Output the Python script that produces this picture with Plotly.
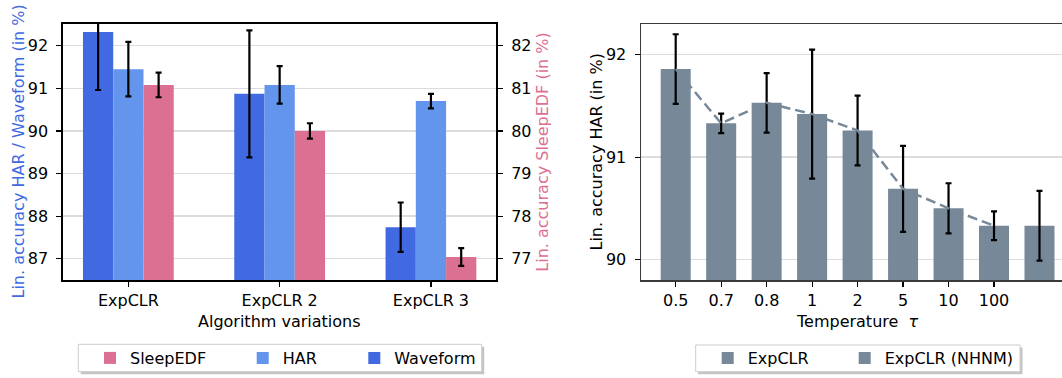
import plotly.graph_objects as go

W, H = 1062, 378

# ---------------- data ----------------
categories = ["ExpCLR", "ExpCLR 2", "ExpCLR 3"]
waveform = [92.32, 90.87, 87.74]
waveform_err = [1.36, 1.49, 0.58]
har = [91.45, 91.08, 90.70]
har_err = [0.64, 0.44, 0.17]
sleepedf = [81.08, 80.00, 77.04]
sleepedf_err = [0.29, 0.18, 0.21]

temps = ["0.5", "0.7", "0.8", "1", "2", "5", "10", "100"]
temp_acc = [91.86, 91.33, 91.53, 91.42, 91.26, 90.69, 90.50, 90.33]
temp_err = [0.34, 0.095, 0.29, 0.63, 0.34, 0.42, 0.245, 0.14]
nhnm_acc = [90.33]
nhnm_err = [0.34]

# ---------------- helpers ----------------
def fx(p):
    return p / W

def fy(p):
    return 1 - p / H

FONT = "DejaVu Sans"
FS = 16
WAVE_C = "#4169E1"
HAR_C = "#6495ED"
SLEEP_C = "#DB7093"
GRAY_C = "#778899"

def err(arr):
    return dict(type="data", array=arr, color="black", thickness=2.2, width=3, visible=True)

xs_left = list(range(len(categories)))
xs_t = list(range(len(temps)))
xs_n = [len(temps) + i for i in range(len(nhnm_acc))]

fig = go.Figure()

# left panel bars
fig.add_trace(go.Bar(x=xs_left, y=waveform, width=0.2, offset=-0.3, name="Waveform",
                     marker=dict(color=WAVE_C, line=dict(width=0)), error_y=err(waveform_err),
                     xaxis="x", yaxis="y", legend="legend3"))
fig.add_trace(go.Bar(x=xs_left, y=har, width=0.2, offset=-0.1, name="HAR",
                     marker=dict(color=HAR_C, line=dict(width=0)), error_y=err(har_err),
                     xaxis="x", yaxis="y", legend="legend2"))
fig.add_trace(go.Bar(x=xs_left, y=sleepedf, width=0.2, offset=0.1, name="SleepEDF",
                     marker=dict(color=SLEEP_C, line=dict(width=0)), error_y=err(sleepedf_err),
                     xaxis="x", yaxis="y2", legend="legend"))

# right panel
fig.add_trace(go.Scatter(x=xs_t, y=temp_acc, mode="lines", showlegend=False,
                         line=dict(color=GRAY_C, width=2.5, dash="10px,5px"),
                         xaxis="x2", yaxis="y3"))
fig.add_trace(go.Bar(x=xs_t, y=temp_acc, width=0.66, name="ExpCLR",
                     marker=dict(color=GRAY_C, line=dict(width=0)), error_y=err(temp_err),
                     xaxis="x2", yaxis="y3", legend="legend4"))
fig.add_trace(go.Bar(x=xs_n, y=nhnm_acc, width=0.66, name="ExpCLR (NHNM)",
                     marker=dict(color=GRAY_C, line=dict(width=0)), error_y=err(nhnm_err),
                     xaxis="x2", yaxis="y3", legend="legend5"))

tickfont = dict(family=FONT, size=FS, color="black")
common_tick = dict(ticks="outside", ticklen=5, tickwidth=1.2, tickcolor="black",
                   tickfont=tickfont, zeroline=False, fixedrange=True)

left_dom_x = [fx(63.3), fx(496)]
dom_y = [fy(280), fy(24)]
right_dom_x = [fx(641), 1.0]


def leg(text_x, text_y=358):
    return dict(x=fx(text_x - 40), y=fy(text_y), xanchor="left", yanchor="middle",
                orientation="h", bgcolor="rgba(0,0,0,0)", borderwidth=0,
                font=dict(family=FONT, size=FS, color="black"))


fig.update_layout(
    width=W, height=H,
    margin=dict(l=0, r=0, t=0, b=0),
    paper_bgcolor="white", plot_bgcolor="white",
    barmode="overlay",
    font=dict(family=FONT, size=FS, color="black"),
    xaxis=dict(domain=left_dom_x, anchor="y", range=[-0.43, 2.43],
               tickmode="array", tickvals=xs_left, ticktext=categories,
               showgrid=False, showline=True, linecolor="black", linewidth=2, mirror=True,
               ticklabelstandoff=0, **common_tick),
    yaxis=dict(domain=dom_y, anchor="x", range=[86.5, 92.51], dtick=1,
               showgrid=True, gridcolor="#dcdcdc", gridwidth=1.3,
               showline=True, linecolor="black", linewidth=2, mirror=True,
               ticklabelstandoff=5, **common_tick),
    yaxis2=dict(overlaying="y", anchor="x", side="right", range=[76.5, 82.51], dtick=1,
                showgrid=False, showline=True, linecolor="black", linewidth=2,
                ticklabelstandoff=5, **common_tick),
    xaxis2=dict(domain=right_dom_x, anchor="y3", range=[-0.763, 8.495],
                tickmode="array", tickvals=xs_t, ticktext=temps,
                showgrid=False, showline=True, linecolor="#3a3a3a", linewidth=1.5, mirror=True,
                ticklabelstandoff=0, **common_tick),
    yaxis3=dict(domain=dom_y, anchor="x2", range=[89.80, 92.30], dtick=1,
                showgrid=True, gridcolor="#dcdcdc", gridwidth=1.3,
                showline=True, linecolor="#3a3a3a", linewidth=1.5,
                ticklabelstandoff=5, **common_tick),
    legend=leg(130),
    legend2=leg(282.7),
    legend3=leg(394.3),
    legend4=leg(747.7),
    legend5=leg(884.7),
    showlegend=True,
    hovermode=False,
)

annotations = [
    dict(text="Lin. accuracy HAR / Waveform (in %)", x=fx(17.5), y=fy(152), textangle=-90,
         font=dict(family=FONT, size=FS, color=WAVE_C)),
    dict(text="Lin. accuracy SleepEDF (in %)", x=fx(541.7), y=fy(152), textangle=-90,
         font=dict(family=FONT, size=FS, color=SLEEP_C)),
    dict(text="Lin. accuracy HAR (in %)", x=fx(595.5), y=fy(152), textangle=-90,
         font=dict(family=FONT, size=FS, color="black")),
    dict(text="Algorithm variations", x=fx(279.7), y=fy(321),
         font=dict(family=FONT, size=FS, color="black")),
    dict(text="Temperature  <i>τ</i>", x=fx(857), y=fy(321),
         font=dict(family=FONT, size=FS, color="black")),
]
for a in annotations:
    a.update(xref="paper", yref="paper", showarrow=False, xanchor="center", yanchor="middle")
fig.update_layout(annotations=annotations)


def box(x0, x1, y0, y1, sh=2.5):
    return [
        dict(type="rect", xref="paper", yref="paper", x0=fx(x0 + sh), x1=fx(x1 + sh),
             y0=fy(y1 + sh), y1=fy(y0 + sh), fillcolor="#c4c4c4", line=dict(width=0),
             layer="above"),
        dict(type="rect", xref="paper", yref="paper", x0=fx(x0), x1=fx(x1),
             y0=fy(y1), y1=fy(y0), fillcolor="white", line=dict(width=1, color="#cccccc"),
             layer="above"),
    ]


fig.update_layout(shapes=box(78.3, 481.7, 344.3, 371.7) + box(695.7, 1020, 345, 371.7))

fig.write_html("out.html", config=dict(displayModeBar=False, staticPlot=True))
